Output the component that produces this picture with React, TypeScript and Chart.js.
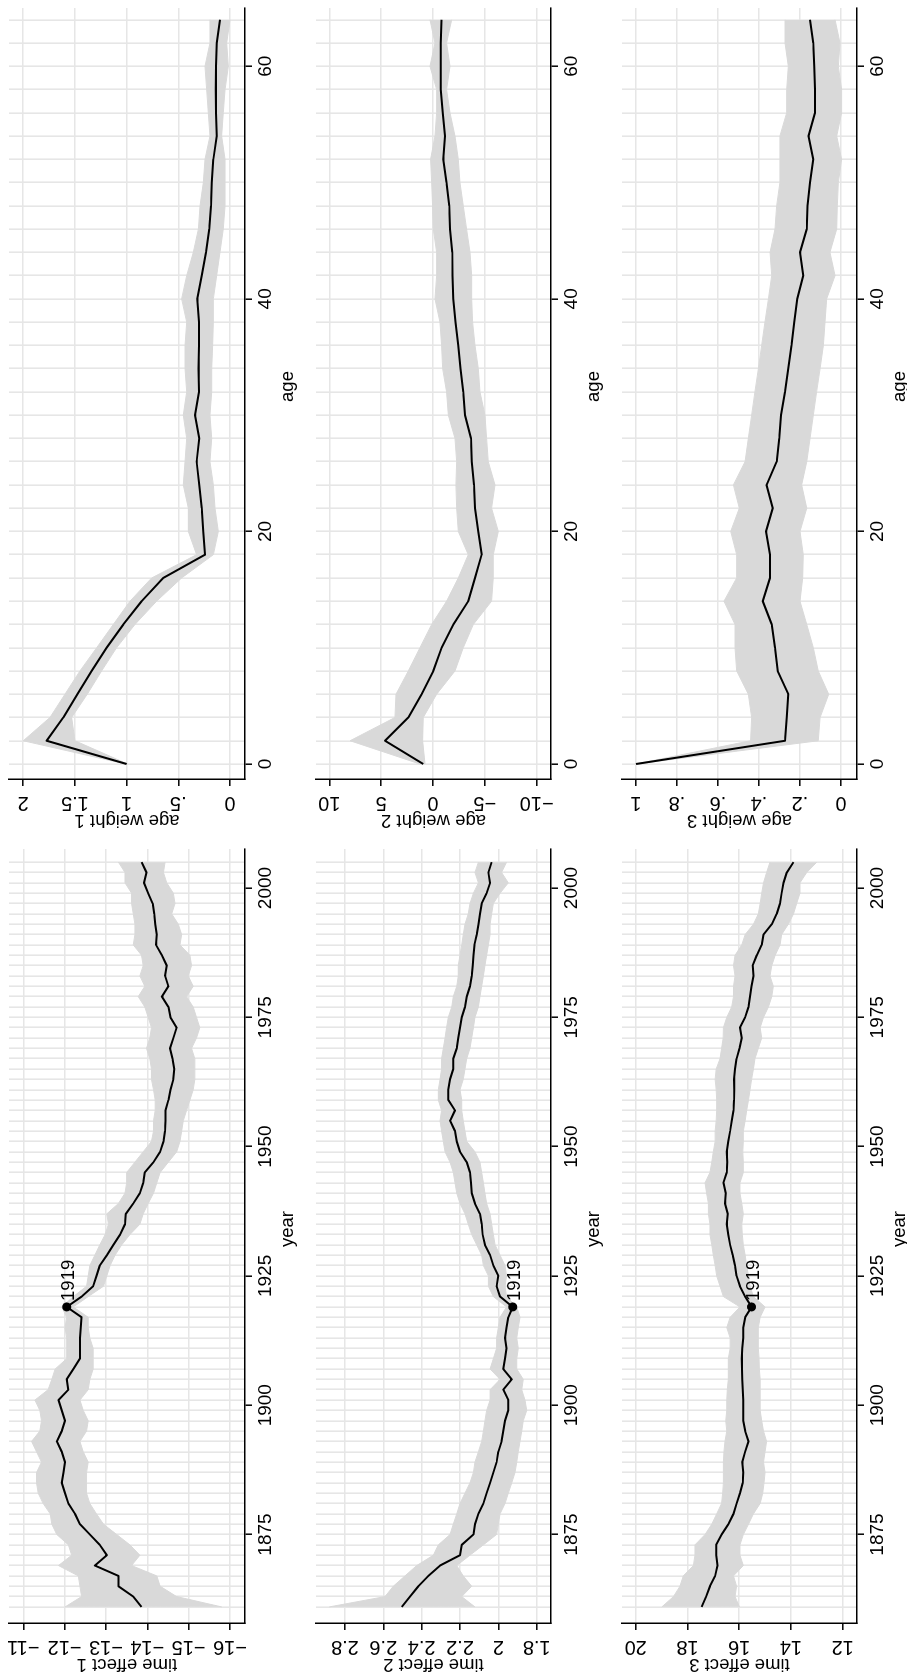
import React, { useEffect, useRef } from 'react';
import { Chart, registerables } from 'chart.js';
Chart.register(...registerables);

// ---------------- DATA ----------------
const YEARS = [
  1861, 1863, 1865, 1867, 1869, 1871, 1873, 1875, 1877, 1879,
  1881, 1883, 1885, 1887, 1889, 1891, 1893, 1895, 1897, 1899,
  1901, 1903, 1905, 1907, 1909, 1911, 1913, 1915, 1917, 1919,
  1921, 1923, 1925, 1927, 1929, 1931, 1933, 1935, 1937, 1939,
  1941, 1943, 1945, 1947, 1949, 1951, 1953, 1955, 1957, 1959,
  1961, 1963, 1965, 1967, 1969, 1971, 1973, 1975, 1977, 1979,
  1981, 1983, 1985, 1987, 1989, 1991, 1993, 1995, 1997, 1999,
  2001, 2003, 2005,
];
const AGES = [
  0, 2, 4, 6, 8, 10, 12, 14, 16, 18,
  20, 22, 24, 26, 28, 30, 32, 34, 36, 38,
  40, 42, 44, 46, 48, 50, 52, 54, 56, 58,
  60, 62, 64,
];

const TE1_MID = [
  -13.86, -13.66, -13.30, -13.30, -12.73, -13.02, -12.85, -12.61, -12.37, -12.25,
  -12.09, -12.01, -11.93, -11.97, -12.01, -11.93, -11.81, -11.93, -12.01, -11.93,
  -11.85, -12.09, -12.05, -12.21, -12.37, -12.37, -12.37, -12.39, -12.41, -12.05,
  -12.41, -12.69, -12.77, -12.85, -13.02, -13.18, -13.34, -13.46, -13.48, -13.66,
  -13.82, -13.90, -13.94, -14.15, -14.31, -14.39, -14.43, -14.44, -14.44, -14.51,
  -14.56, -14.63, -14.65, -14.61, -14.55, -14.63, -14.71, -14.56, -14.51, -14.35,
  -14.51, -14.43, -14.47, -14.35, -14.21, -14.23, -14.19, -14.17, -14.13, -14.02,
  -13.92, -13.98, -13.86,
];
const TE1_HI = [
  -12.01, -12.41, -12.37, -12.33, -11.85, -12.17, -12.09, -11.81, -11.69, -11.65,
  -11.48, -11.36, -11.32, -11.32, -11.44, -11.32, -11.20, -11.40, -11.44, -11.40,
  -11.28, -11.60, -11.69, -11.77, -12.05, -12.05, -12.05, -12.01, -12.05, -11.93,
  -12.21, -12.53, -12.57, -12.61, -12.73, -12.85, -12.98, -13.06, -13.02, -13.30,
  -13.46, -13.50, -13.50, -13.70, -13.90, -14.10, -14.15, -14.15, -14.19, -14.19,
  -14.15, -14.10, -14.10, -14.06, -13.98, -14.06, -14.10, -14.02, -13.94, -13.78,
  -13.94, -13.82, -13.90, -13.86, -13.66, -13.70, -13.70, -13.66, -13.62, -13.62,
  -13.46, -13.46, -13.30,
];
const TE1_LO = [
  -15.80, -14.71, -14.31, -14.23, -13.62, -13.82, -13.58, -13.26, -12.94, -12.77,
  -12.61, -12.53, -12.53, -12.53, -12.57, -12.45, -12.37, -12.53, -12.57, -12.45,
  -12.37, -12.57, -12.61, -12.69, -12.69, -12.69, -12.61, -12.57, -12.57, -12.21,
  -12.57, -12.94, -13.02, -13.10, -13.22, -13.38, -13.58, -13.82, -13.90, -14.02,
  -14.15, -14.23, -14.31, -14.51, -14.71, -14.79, -14.83, -14.87, -14.95, -15.03,
  -15.11, -15.15, -15.15, -15.15, -15.07, -15.19, -15.27, -15.19, -15.11, -14.95,
  -15.11, -14.99, -15.07, -15.03, -14.79, -14.83, -14.75, -14.59, -14.67, -14.63,
  -14.47, -14.39, -14.43,
];

const TE2_MID = [
  2.504, 2.461, 2.417, 2.365, 2.304, 2.200, 2.191, 2.130, 2.122, 2.104,
  2.078, 2.061, 2.043, 2.026, 2.009, 2.000, 1.983, 1.974, 1.965, 1.948,
  1.948, 1.974, 1.930, 1.974, 1.965, 1.957, 1.965, 1.957, 1.948, 1.925,
  1.991, 2.009, 2.000, 2.026, 2.043, 2.070, 2.082, 2.087, 2.096, 2.122,
  2.139, 2.143, 2.148, 2.165, 2.200, 2.217, 2.226, 2.252, 2.226, 2.261,
  2.261, 2.252, 2.235, 2.235, 2.217, 2.209, 2.200, 2.191, 2.174, 2.165,
  2.148, 2.139, 2.134, 2.130, 2.125, 2.113, 2.104, 2.096, 2.087, 2.061,
  2.043, 2.052, 2.035,
];
const TE2_HI = [
  2.882, 2.591, 2.548, 2.487, 2.426, 2.339, 2.313, 2.252, 2.235, 2.217,
  2.200, 2.174, 2.148, 2.130, 2.122, 2.104, 2.087, 2.078, 2.070, 2.061,
  2.043, 2.043, 1.991, 2.043, 2.026, 2.009, 2.009, 2.000, 1.991, 1.957,
  2.026, 2.052, 2.052, 2.078, 2.087, 2.113, 2.139, 2.157, 2.174, 2.200,
  2.217, 2.226, 2.235, 2.252, 2.278, 2.287, 2.296, 2.304, 2.296, 2.313,
  2.313, 2.304, 2.296, 2.296, 2.287, 2.278, 2.270, 2.261, 2.243, 2.235,
  2.217, 2.209, 2.209, 2.200, 2.191, 2.183, 2.174, 2.157, 2.148, 2.130,
  2.104, 2.122, 2.104,
];
const TE2_LO = [
  2.122, 2.191, 2.139, 2.183, 2.217, 2.148, 2.078, 2.009, 2.000, 1.991,
  1.965, 1.948, 1.930, 1.913, 1.904, 1.896, 1.887, 1.878, 1.870, 1.852,
  1.861, 1.878, 1.870, 1.904, 1.904, 1.896, 1.904, 1.896, 1.887, 1.904,
  1.957, 1.965, 1.957, 1.965, 1.991, 2.017, 2.026, 2.035, 2.043, 2.061,
  2.070, 2.078, 2.087, 2.096, 2.122, 2.165, 2.174, 2.183, 2.191, 2.191,
  2.200, 2.183, 2.174, 2.165, 2.148, 2.139, 2.130, 2.122, 2.104, 2.096,
  2.087, 2.078, 2.070, 2.061, 2.052, 2.043, 2.043, 2.035, 2.026, 1.991,
  1.948, 1.983, 1.957,
];

const TE3_MID = [
  17.45, 17.28, 17.13, 16.93, 16.84, 16.89, 16.89, 16.68, 16.42, 16.22,
  16.10, 15.97, 15.86, 15.84, 15.88, 15.77, 15.64, 15.77, 15.84, 15.84,
  15.84, 15.86, 15.88, 15.89, 15.90, 15.88, 15.84, 15.84, 15.77, 15.52,
  15.77, 15.97, 16.10, 16.16, 16.25, 16.35, 16.42, 16.48, 16.44, 16.55,
  16.52, 16.61, 16.48, 16.46, 16.48, 16.42, 16.35, 16.29, 16.22, 16.20,
  16.19, 16.20, 16.16, 16.10, 15.99, 15.90, 15.97, 15.77, 15.64, 15.58,
  15.52, 15.45, 15.48, 15.32, 15.13, 15.06, 14.74, 14.55, 14.42, 14.36,
  14.29, 14.16, 13.90,
];
const TE3_HI = [
  18.99, 18.54, 18.29, 18.16, 17.77, 17.71, 17.71, 17.32, 17.06, 16.87,
  16.68, 16.64, 16.61, 16.61, 16.61, 16.59, 16.55, 16.48, 16.52, 16.48,
  16.48, 16.46, 16.42, 16.42, 16.42, 16.35, 16.35, 16.48, 16.35, 15.97,
  16.61, 16.74, 16.87, 16.93, 17.00, 17.06, 17.13, 17.13, 17.19, 17.19,
  17.26, 17.32, 17.13, 17.06, 17.00, 16.93, 16.93, 16.89, 16.87, 16.87,
  16.89, 16.93, 16.89, 16.74, 16.68, 16.62, 16.61, 16.48, 16.29, 16.22,
  16.22, 16.16, 16.22, 16.16, 15.90, 15.77, 15.45, 15.26, 15.19, 15.13,
  15.06, 14.94, 14.81,
];
const TE3_LO = [
  15.99, 16.16, 16.10, 16.22, 15.84, 15.97, 15.97, 15.84, 15.64, 15.45,
  15.19, 15.09, 15.04, 15.00, 15.06, 15.00, 14.94, 15.06, 15.13, 15.19,
  15.19, 15.19, 15.19, 15.22, 15.23, 15.26, 15.26, 15.26, 15.19, 15.00,
  15.45, 15.58, 15.64, 15.71, 15.77, 15.84, 15.88, 15.90, 15.84, 15.90,
  15.97, 15.97, 15.84, 15.84, 15.86, 15.84, 15.84, 15.77, 15.71, 15.64,
  15.58, 15.52, 15.45, 15.39, 15.26, 15.13, 15.19, 15.06, 14.87, 14.74,
  14.68, 14.81, 14.74, 14.61, 14.42, 14.36, 14.10, 13.90, 13.78, 13.65,
  13.65, 13.39, 13.00,
];

const AW1_MID = [
  1.000, 1.774, 1.613, 1.477, 1.339, 1.194, 1.032, 0.855, 0.645, 0.242,
  0.258, 0.274, 0.297, 0.323, 0.297, 0.339, 0.300, 0.306, 0.300, 0.300,
  0.316, 0.274, 0.232, 0.200, 0.184, 0.177, 0.161, 0.129, 0.135, 0.139,
  0.135, 0.129, 0.097,
];
const AW1_HI = [
  1.010, 2.000, 1.742, 1.597, 1.452, 1.290, 1.129, 0.968, 0.758, 0.323,
  0.403, 0.403, 0.452, 0.435, 0.419, 0.452, 0.419, 0.435, 0.435, 0.419,
  0.468, 0.419, 0.355, 0.306, 0.290, 0.258, 0.242, 0.194, 0.210, 0.226,
  0.242, 0.194, 0.194,
];
const AW1_LO = [
  0.990, 1.500, 1.532, 1.381, 1.242, 1.097, 0.919, 0.710, 0.468, 0.161,
  0.113, 0.145, 0.161, 0.194, 0.177, 0.194, 0.177, 0.177, 0.168, 0.161,
  0.161, 0.129, 0.097, 0.065, 0.048, 0.048, 0.048, 0.081, 0.065, 0.048,
  0.016, 0.032, 0.000,
];

const AW2_MID = [
  0.935, 4.63, 2.38, 1.10, -0.03, -0.83, -1.96, -3.40, -4.05, -4.69,
  -4.37, -4.05, -3.95, -3.73, -3.66, -3.08, -2.92, -2.66, -2.44, -2.18,
  -1.96, -1.89, -1.86, -1.64, -1.57, -1.31, -0.99, -1.15, -0.93, -0.74,
  -0.74, -0.74, -0.83,
];
const AW2_HI = [
  1.26, 8.00, 3.67, 3.57, 2.38, 1.26, 0.13, -1.31, -2.44, -3.40,
  -2.44, -2.28, -2.21, -2.28, -2.12, -1.48, -1.31, -0.93, -0.83, -0.67,
  -0.19, -0.35, -0.35, -0.03, 0.04, 0.13, 0.23, -0.19, -0.35, -0.35,
  0.29, -0.19, 0.29,
];
const AW2_LO = [
  0.77, 1.00, 0.94, -0.35, -2.12, -2.92, -3.89, -5.65, -5.81, -5.81,
  -6.30, -5.65, -5.98, -5.33, -5.17, -5.01, -4.53, -4.37, -4.05, -3.82,
  -3.73, -3.73, -3.57, -3.24, -2.92, -2.60, -2.44, -2.12, -1.64, -1.31,
  -1.64, -1.31, -1.80,
];

const AW3_MID = [
  1.000, 0.273, 0.265, 0.257, 0.309, 0.322, 0.338, 0.382, 0.346, 0.346,
  0.366, 0.333, 0.363, 0.314, 0.301, 0.293, 0.273, 0.257, 0.241, 0.228,
  0.213, 0.184, 0.200, 0.167, 0.163, 0.151, 0.135, 0.159, 0.127, 0.127,
  0.130, 0.135, 0.151,
];
const AW3_HI = [
  1.000, 0.441, 0.436, 0.452, 0.509, 0.517, 0.517, 0.571, 0.509, 0.509,
  0.538, 0.496, 0.525, 0.468, 0.452, 0.436, 0.420, 0.403, 0.387, 0.371,
  0.354, 0.338, 0.346, 0.322, 0.314, 0.298, 0.298, 0.298, 0.265, 0.265,
  0.257, 0.273, 0.273,
];
const AW3_LO = [
  1.000, 0.111, 0.102, 0.060, 0.111, 0.135, 0.167, 0.200, 0.187, 0.184,
  0.200, 0.167, 0.192, 0.167, 0.151, 0.135, 0.119, 0.102, 0.086, 0.078,
  0.070, 0.029, 0.054, 0.021, 0.018, 0.013, -0.003, 0.021, -0.003, -0.003,
  0.013, 0.005, 0.029,
];

const YEAR_TICKS = [1875, 1900, 1925, 1950, 1975, 2000];
const YEAR_TICK_LABELS = ['1875', '1900', '1925', '1950', '1975', '2000'];
const AGE_TICKS = [0, 20, 40, 60];
const AGE_TICK_LABELS = ['0', '20', '40', '60'];

const TE1_TICKS = [-11, -12, -13, -14, -15, -16];
const TE1_LABELS = ['\u221211', '\u221212', '\u221213', '\u221214', '\u221215', '\u221216'];
const TE2_TICKS = [2.8, 2.6, 2.4, 2.2, 2.0, 1.8];
const TE2_LABELS = ['2.8', '2.6', '2.4', '2.2', '2', '1.8'];
const TE3_TICKS = [20, 18, 16, 14, 12];
const TE3_LABELS = ['20', '18', '16', '14', '12'];
const AW1_TICKS = [2, 1.5, 1, 0.5, 0];
const AW1_LABELS = ['2', '1.5', '1', '.5', '0'];
const AW2_TICKS = [10, 5, 0, -5, -10];
const AW2_LABELS = ['10', '5', '0', '\u22125', '\u221210'];
const AW3_TICKS = [1, 0.8, 0.6, 0.4, 0.2, 0];
const AW3_LABELS = ['1', '.8', '.6', '.4', '.2', '0'];

const MARK_YEAR = 1919;

// ---------------- STYLE / LAYOUT ----------------
const FONT = '"Liberation Sans", Arial, Helvetica, sans-serif';
const BAND = '#d9d9d9';
const GRID = '#e6e6e6';
const FIG_W = 1679;
const FIG_H = 907;
const ROW_TOP = [9, 316, 622];
const ROW_BOTTOM = [245, 551, 857];
const XAXIS_H = [60, 60, 50];
const PAD_L = 56;
const PAD_T = 9;
const PAD_R = 8;

type Panel = {
  xs: number[]; mid: number[]; hi: number[]; lo: number[];
  xMin: number; xMax: number; xTicks: number[]; xTickLabels: string[]; xGrid: number[];
  yMin: number; yMax: number; yTicks: number[]; yTickLabels: string[];
  xTitle: string; yTitle: string; mark: number | null;
  areaLeft: number; areaRight: number; row: number;
};

const TIME_X = { xMin: 1857.89, xMax: 2007.54, xTicks: YEAR_TICKS, xTickLabels: YEAR_TICK_LABELS, xGrid: YEARS, xTitle: 'year', areaLeft: 56, areaRight: 830 };
const AGE_X = { xMin: -1.29, xMax: 65.01, xTicks: AGE_TICKS, xTickLabels: AGE_TICK_LABELS, xGrid: AGES, xTitle: 'age', areaLeft: 900, areaRight: 1671 };

const PANELS: Panel[] = [
  { ...TIME_X, xs: YEARS, mid: TE1_MID, hi: TE1_HI, lo: TE1_LO, yMin: -16.363, yMax: -10.654, yTicks: TE1_TICKS, yTickLabels: TE1_LABELS, yTitle: 'time effect 1', mark: MARK_YEAR, row: 0 },
  { ...AGE_X, xs: AGES, mid: AW1_MID, hi: AW1_HI, lo: AW1_LO, yMin: -0.145, yMax: 2.138, yTicks: AW1_TICKS, yTickLabels: AW1_LABELS, yTitle: 'age weight 1', mark: null, row: 0 },
  { ...TIME_X, xs: YEARS, mid: TE2_MID, hi: TE2_HI, lo: TE2_LO, yMin: 1.7254, yMax: 2.951, yTicks: TE2_TICKS, yTickLabels: TE2_LABELS, yTitle: 'time effect 2', mark: MARK_YEAR, row: 1 },
  { ...AGE_X, xs: AGES, mid: AW2_MID, hi: AW2_HI, lo: AW2_LO, yMin: -11.379, yMax: 11.283, yTicks: AW2_TICKS, yTickLabels: AW2_LABELS, yTitle: 'age weight 2', mark: null, row: 1 },
  { ...TIME_X, xs: YEARS, mid: TE3_MID, hi: TE3_HI, lo: TE3_LO, yMin: 11.447, yMax: 20.529, yTicks: TE3_TICKS, yTickLabels: TE3_LABELS, yTitle: 'time effect 3', mark: MARK_YEAR, row: 2 },
  { ...AGE_X, xs: AGES, mid: AW3_MID, hi: AW3_HI, lo: AW3_LO, yMin: -0.078, yMax: 1.0683, yTicks: AW3_TICKS, yTickLabels: AW3_LABELS, yTitle: 'age weight 3', mark: null, row: 2 },
];

function box(p: Panel) {
  const left = p.areaLeft - PAD_L;
  const top = ROW_TOP[p.row] - PAD_T;
  const width = p.areaRight - p.areaLeft + PAD_L + PAD_R;
  const height = ROW_BOTTOM[p.row] - ROW_TOP[p.row] + PAD_T + XAXIS_H[p.row];
  return { left, top, width, height };
}

function makeChart(canvas: HTMLCanvasElement, p: Panel) {
  const pts = (ys: number[]) => p.xs.map((x, i) => ({ x, y: ys[i] }));
  const gridSet = new Set(p.xGrid);
  const majorSet = new Set(p.xTicks);
  const allX = Array.from(new Set([...p.xGrid, ...p.xTicks])).sort((a, b) => a - b);
  const xAxisH = XAXIS_H[p.row];

  const datasets: any[] = [
    { data: pts(p.lo), borderColor: BAND, borderWidth: 1, pointRadius: 0, fill: false, order: 3 },
    { data: pts(p.hi), borderColor: BAND, borderWidth: 1, pointRadius: 0, fill: '-1', backgroundColor: BAND, order: 2 },
    { data: pts(p.mid), borderColor: '#000', borderWidth: 2, pointRadius: 0, fill: false, order: 1, borderJoinStyle: 'round' },
  ];
  if (p.mark !== null) {
    const idx = p.xs.indexOf(p.mark);
    datasets.push({
      data: [{ x: p.mark, y: p.mid[idx] }], showLine: false, pointRadius: 4.5,
      pointBackgroundColor: '#000', pointBorderColor: '#000', pointBorderWidth: 0, order: 0,
    });
  }

  const textPlugin = {
    id: 'stataText',
    afterDraw(chart: any) {
      const { ctx, chartArea: a } = chart;
      const xs = chart.scales.x;
      const ys = chart.scales.y;
      ctx.save();
      ctx.fillStyle = '#000';
      ctx.textBaseline = 'alphabetic';
      ctx.textAlign = 'center';
      // x tick labels
      ctx.font = `19px ${FONT}`;
      p.xTicks.forEach((v, i) => ctx.fillText(p.xTickLabels[i], xs.getPixelForValue(v), a.bottom + 26));
      // x title
      ctx.font = `18.5px ${FONT}`;
      ctx.fillText(p.xTitle, (a.left + a.right) / 2 + 7, a.bottom + 48);
      // y tick labels (vertical)
      ctx.font = `20px ${FONT}`;
      p.yTicks.forEach((v, i) => {
        ctx.save();
        ctx.translate(a.left - 18, ys.getPixelForValue(v));
        ctx.rotate(-Math.PI / 2);
        ctx.fillText(p.yTickLabels[i], 0, 0);
        ctx.restore();
      });
      // y title
      ctx.font = `18.5px ${FONT}`;
      ctx.save();
      ctx.translate(a.left - 36, (a.top + a.bottom) / 2);
      ctx.rotate(-Math.PI / 2);
      ctx.fillText(p.yTitle, 0, 0);
      ctx.restore();
      // marker label
      if (p.mark !== null) {
        const pt = chart.getDatasetMeta(3).data[0];
        if (pt) {
          ctx.textAlign = 'left';
          ctx.font = `18.5px ${FONT}`;
          ctx.fillText(String(p.mark), pt.x + 6, pt.y + 7);
        }
      }
      ctx.restore();
    },
  };

  return new Chart(canvas, {
    type: 'line',
    data: { datasets },
    options: {
      responsive: false,
      maintainAspectRatio: false,
      animation: false,
      events: [],
      layout: { padding: { left: 0, top: PAD_T, right: PAD_R, bottom: 0 } },
      elements: { line: { tension: 0 } },
      plugins: { legend: { display: false }, tooltip: { enabled: false } },
      scales: {
        x: {
          type: 'linear', position: 'bottom', min: p.xMin, max: p.xMax,
          afterBuildTicks: (s: any) => { s.ticks = allX.map((v) => ({ value: v })); },
          afterFit: (s: any) => { s.height = xAxisH; },
          ticks: { display: false, autoSkip: false },
          grid: {
            color: (c: any) => (c.tick && gridSet.has(c.tick.value) ? GRID : 'rgba(0,0,0,0)'),
            lineWidth: 1.6, drawTicks: true, tickLength: 7, tickWidth: 1.5,
            tickColor: (c: any) => (c.tick && majorSet.has(c.tick.value) ? '#000' : 'rgba(0,0,0,0)'),
          },
          border: { display: true, color: '#000', width: 1.5 },
        },
        y: {
          type: 'linear', position: 'left', min: p.yMin, max: p.yMax,
          afterBuildTicks: (s: any) => { s.ticks = p.yTicks.map((v) => ({ value: v })); },
          afterFit: (s: any) => { s.width = PAD_L; },
          ticks: { display: false, autoSkip: false },
          grid: { color: GRID, lineWidth: 1.6, drawTicks: true, tickLength: 7, tickWidth: 1.5, tickColor: '#000' },
          border: { display: true, color: '#000', width: 1.5 },
        },
      },
    } as any,
    plugins: [textPlugin],
  });
}

export default function App() {
  const refs = useRef<(HTMLCanvasElement | null)[]>([]);
  useEffect(() => {
    document.documentElement.style.overflow = 'hidden';
    document.body.style.overflow = 'hidden';
    const charts = PANELS.map((p, i) => makeChart(refs.current[i] as HTMLCanvasElement, p));
    return () => charts.forEach((c) => c.destroy());
  }, []);
  return (
    <div
      style={{
        position: 'absolute', left: 0, top: 0, width: FIG_W, height: FIG_H,
        overflow: 'hidden', background: '#fff', transformOrigin: '0 0',
        transform: `translateY(${FIG_W}px) rotate(-90deg)`,
      }}
    >
      {PANELS.map((p, i) => {
        const b = box(p);
        return (
          <canvas
            key={i}
            ref={(el) => { refs.current[i] = el; }}
            width={b.width}
            height={b.height}
            style={{ position: 'absolute', left: b.left, top: b.top, width: b.width, height: b.height }}
          />
        );
      })}
    </div>
  );
}
